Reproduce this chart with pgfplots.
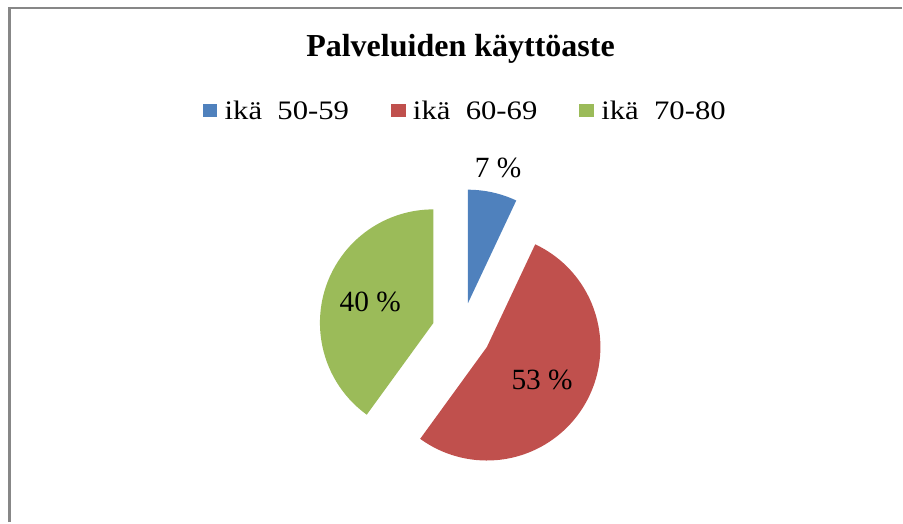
\documentclass[border=0pt]{standalone}
\usepackage{pgfplots}
\usepackage{pgfplotstable}
\pgfplotsset{compat=1.18}
\usepackage{fontspec}
\setmainfont{Liberation Serif}
\newfontfamily\legfont[FakeStretch=1.15]{Liberation Serif}
\definecolor{c1}{HTML}{4F81BD}
\definecolor{c2}{HTML}{C0504D}
\definecolor{c3}{HTML}{9BBB59}
\definecolor{framegray}{HTML}{878787}

% value = share in percent, lf = label distance (fraction of radius)
\pgfplotstableread{
grp value lf
50-59 7 1.22
60-69 53 0.565
70-80 40 0.585
}\pietable

\def\cx{461.5}\def\cy{190}\def\dex{29.5}\def\rad{113.5}
\gdef\curang{90}
\newcommand\slicecalc[2]{%
  \pgfplotstablegetelem{#1}{value}\of\pietable
  \pgfmathtruncatemacro\tv{\pgfplotsretval}%
  \pgfplotstablegetelem{#1}{lf}\of\pietable
  \pgfmathsetmacro\tlf{\pgfplotsretval}%
  \pgfmathsetmacro\tea{\curang-3.6*\tv}%
  \pgfmathsetmacro\tma{(\curang+\tea)/2}%
  \pgfmathsetmacro\tvx{\cx+\dex*cos(\tma)}%
  \pgfmathsetmacro\tvy{\cy+\dex*sin(\tma)}%
  \pgfmathsetmacro\tpx{\tvx+\rad*cos(\curang)}%
  \pgfmathsetmacro\tpy{\tvy+\rad*sin(\curang)}%
  \pgfmathsetmacro\tlx{\tvx+\tlf*\rad*cos(\tma)}%
  \pgfmathsetmacro\tly{\tvy+\tlf*\rad*sin(\tma)}%
  \expandafter\xdef\csname slV#2\endcsname{\tv}%
  \expandafter\xdef\csname slS#2\endcsname{\curang}%
  \expandafter\xdef\csname slE#2\endcsname{\tea}%
  \expandafter\xdef\csname slVX#2\endcsname{\tvx}%
  \expandafter\xdef\csname slVY#2\endcsname{\tvy}%
  \expandafter\xdef\csname slPX#2\endcsname{\tpx}%
  \expandafter\xdef\csname slPY#2\endcsname{\tpy}%
  \expandafter\xdef\csname slLX#2\endcsname{\tlx}%
  \expandafter\xdef\csname slLY#2\endcsname{\tly}%
  \xdef\curang{\tea}%
}

\begin{document}
\begin{tikzpicture}
\slicecalc{0}{a}\slicecalc{1}{b}\slicecalc{2}{c}
\begin{axis}[
  x=0.75pt, y=0.75pt,
  xmin=0, xmax=903, ymin=0, ymax=522,
  hide axis, clip=false,
  legend columns=3,
  legend image code/.code={\fill[#1] (0pt,-4.75pt) rectangle (11pt,5.5pt);},
  legend style={draw=none, fill=none, at={(axis cs:465.5,411)}, anchor=center,
    font=\legfont\fontsize{20}{24}\selectfont, inner sep=0pt,
    /tikz/every odd column/.append style={column sep=3.5pt},
    /tikz/every even column/.append style={column sep=29.5pt}},
]
\path (axis cs:0,0) rectangle (axis cs:903,522);
\draw[framegray, line width=2.25pt] (axis cs:9.5,0) -- (axis cs:9.5,514.5);
\draw[framegray, line width=1.5pt] (axis cs:8.5,514) -- (axis cs:902,514);

\addlegendimage{fill=c1, draw=none}
\addlegendentry{ikä\ \ 50-59}
\addlegendimage{fill=c2, draw=none}
\addlegendentry{ikä\ \ 60-69}
\addlegendimage{fill=c3, draw=none}
\addlegendentry{ikä\ \ 70-80}

\fill[c1] (axis cs:\slVXa,\slVYa) -- (axis cs:\slPXa,\slPYa) arc[start angle=\slSa, end angle=\slEa, radius=85.125pt] -- cycle;
\fill[c2] (axis cs:\slVXb,\slVYb) -- (axis cs:\slPXb,\slPYb) arc[start angle=\slSb, end angle=\slEb, radius=85.125pt] -- cycle;
\fill[c3] (axis cs:\slVXc,\slVYc) -- (axis cs:\slPXc,\slPYc) arc[start angle=\slSc, end angle=\slEc, radius=85.125pt] -- cycle;

\node[font=\fontsize{22}{26}\selectfont, inner sep=0pt] at (axis cs:\slLXa,\slLYa) {\slVa\ \%};
\node[font=\fontsize{22}{26}\selectfont, inner sep=0pt] at (axis cs:\slLXb,\slLYb) {\slVb\ \%};
\node[font=\fontsize{22}{26}\selectfont, inner sep=0pt] at (axis cs:\slLXc,\slLYc) {\slVc\ \%};

\node[font=\bfseries\fontsize{24}{28}\selectfont, anchor=base] at (axis cs:460.5,465) {Palveluiden käyttöaste};
\end{axis}
\end{tikzpicture}
\end{document}
